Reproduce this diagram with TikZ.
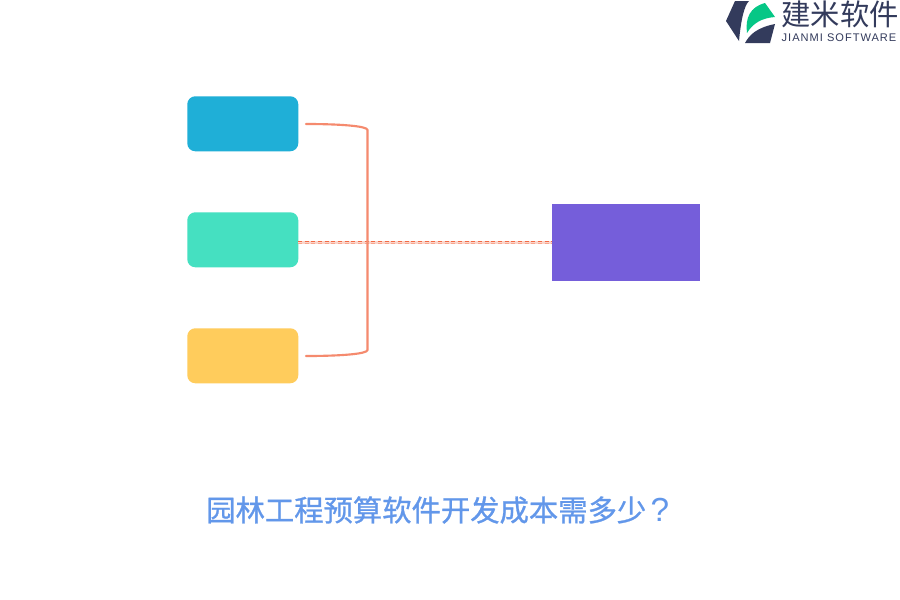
\documentclass[tikz,border=0pt]{standalone}
\usepackage{fontspec}
\setmainfont{Liberation Sans}
\newfontfamily\cjk{Noto Sans CJK SC}
\newfontfamily\cjkbold[FakeBold=0.9]{Noto Sans CJK SC}
\definecolor{conn}{HTML}{F26A44}
\definecolor{brk}{HTML}{F58A6E}
\definecolor{navy}{HTML}{333B5C}
\definecolor{leaf}{HTML}{06C786}
\definecolor{ttl}{HTML}{6297EA}
\definecolor{hubc}{HTML}{755EDA}
\tikzset{
  card/.style={rounded corners=6pt,minimum width=83.25pt,minimum height=41.25pt,inner sep=0pt,anchor=north west},
  hub/.style={minimum width=111pt,minimum height=57.75pt,inner sep=0pt,anchor=north west,fill=hubc},
  bracket/.style={draw=brk,line width=1.6pt,line cap=round},
  dashunder/.style={draw=conn!28,line width=2.6pt},
  dashtop/.style={draw=conn,line width=1.2pt,dash pattern=on 3pt off 2pt},
  dashbot/.style={draw=conn!60,line width=1.2pt,dash pattern=on 3pt off 2pt},
  titletext/.style={font=\cjkbold\fontsize{22pt}{22pt}\selectfont,inner sep=0pt,anchor=west},
  titlemark/.style={font=\fontsize{25pt}{25pt}\selectfont,inner sep=0pt,anchor=center},
}
\begin{document}
\begin{tikzpicture}[x=0.75pt,y=-0.75pt]
\useasboundingbox (0,0) rectangle (900,600);
\fill[white] (0,0) rectangle (900,600);
\node[card,fill={rgb,255:red,31;green,175;blue,215}] (a) at (187,96) {};
\node[card,fill={rgb,255:red,69;green,224;blue,193}] (b) at (187,212) {};
\node[card,fill={rgb,255:red,255;green,204;blue,92}] (c) at (187,328) {};
\node[hub] (h) at (552,204) {};
\coordinate (ta) at (306,124);
\coordinate (tc) at (306,356);
\coordinate (ka) at (367.5,130);
\coordinate (kc) at (367.5,350);
\coordinate (s0) at (298,242.5);
\coordinate (e0) at (552,242.5);
\coordinate (s1) at (298,241.5);
\coordinate (e1) at (552,241.5);
\coordinate (s2) at (298,243.5);
\coordinate (e2) at (552,243.5);
\draw[dashunder] (s0) -- (e0);
\draw[dashbot] (s2) -- (e2);
\draw[dashtop] (s1) -- (e1);
\draw[bracket] (ta) .. controls (340,124) and (367.5,126) .. (ka) -- (kc) .. controls (367.5,354) and (340,356) .. (tc);
\node[titletext,text=ttl] (t1) at (206,510) {园林工程预算软件开发成本需多少};
\node[titlemark,text=ttl] (q) at (660,509.5) {?};
% logo
\fill[navy] (735,1) -- (749,1) .. controls (744,6) and (741,20) .. (739,41) -- (726,21) -- cycle;
\fill[navy] (751,43) -- (745,43) .. controls (749,36) and (755,28) .. (775,24) -- (770,43) -- cycle;
\fill[leaf] (747,33) .. controls (745,18) and (750,7) .. (765,3) -- (775,17) .. controls (762,18) and (753,23) .. (747,33) -- cycle;
\node[text=navy,font=\cjk\fontsize{22pt}{22pt}\selectfont,inner sep=0pt] (l1) at (840,14) {建米软件};
\node[text=navy,font=\fontsize{8.3pt}{8.3pt}\selectfont,inner sep=0pt] (l2) at (839,38) {\addfontfeatures{LetterSpace=9}JIANMI SOFTWARE};
\end{tikzpicture}
\end{document}
